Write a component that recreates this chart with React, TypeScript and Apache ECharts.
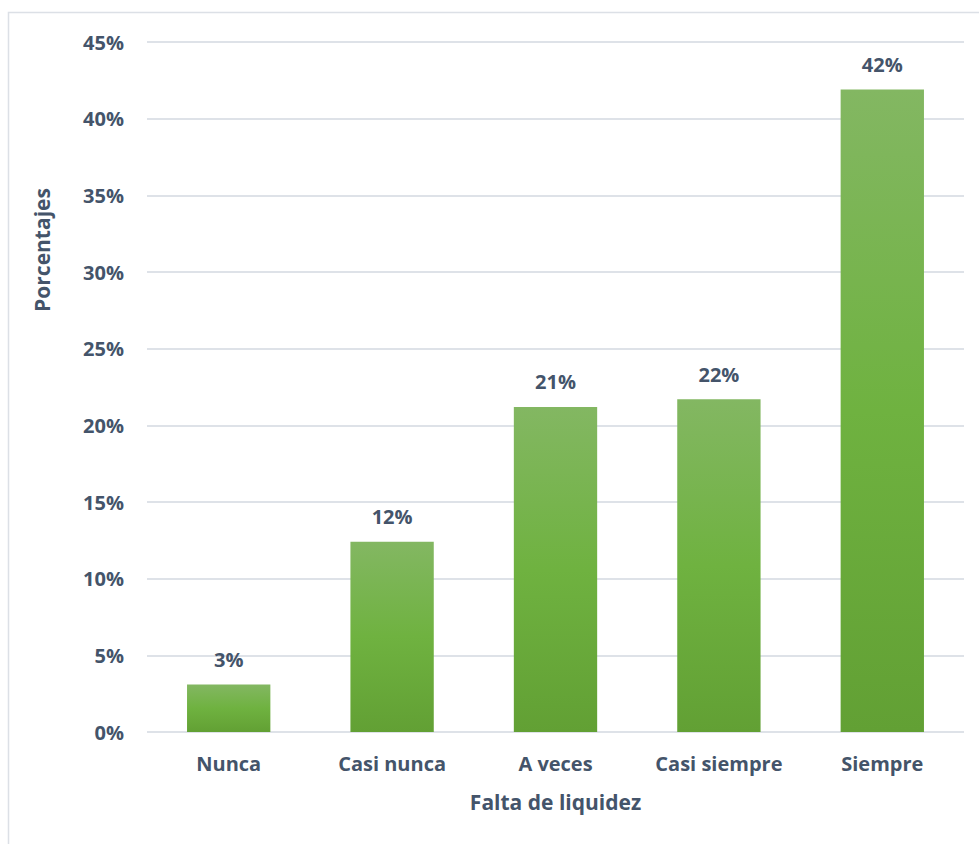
import React, { useEffect, useRef } from "react";
import * as echarts from "echarts";

// Survey responses on "Falta de liquidez" (share of respondents)
const categories = ["Nunca", "Casi nunca", "A veces", "Casi siempre", "Siempre"];
const shares = [0.031, 0.124, 0.212, 0.217, 0.419];
const yAxisTitle = "Porcentajes";
const xAxisTitle = "Falta de liquidez";

const TEXT = "#44546A";
const FONT = "'Open Sans', Lato, sans-serif";

const pct = (v: number) => `${Math.round(v * 100)}%`;

export default function App() {
  const ref = useRef<HTMLDivElement>(null);

  useEffect(() => {
    if (!ref.current) return;
    const chart = echarts.init(ref.current, undefined, { renderer: "svg" });
    chart.setOption({
      animation: false,
      backgroundColor: "#ffffff",
      textStyle: { fontFamily: FONT },
      grid: { left: 147, right: 15, top: 42, bottom: 112 },
      graphic: [
        {
          type: "rect",
          shape: { x: 8.5, y: 12.5, width: 1100, height: 1000 },
          style: { fill: "none", stroke: "#DCE0E6", lineWidth: 1.5 },
          silent: true,
        },
        {
          type: "text",
          x: 42,
          y: 250,
          rotation: Math.PI / 2,
          style: {
            text: yAxisTitle,
            fill: TEXT,
            font: `bold 21px ${FONT}`,
            align: "center",
            verticalAlign: "middle",
          },
        },
      ],
      xAxis: {
        type: "category",
        data: categories,
        axisLine: { show: false },
        axisTick: { show: false },
        axisLabel: {
          interval: 0,
          hideOverlap: false,
          color: TEXT,
          fontFamily: FONT,
          fontWeight: "bold",
          fontSize: 20,
          lineHeight: 24,
          margin: 19,
        },
        name: xAxisTitle,
        nameLocation: "middle",
        nameGap: 57,
        nameTextStyle: {
          color: TEXT,
          fontFamily: FONT,
          fontWeight: "bold",
          fontSize: 21,
          lineHeight: 25,
        },
      },
      yAxis: {
        type: "value",
        min: 0,
        max: 0.45,
        interval: 0.05,
        axisLine: { show: false },
        axisTick: { show: false },
        splitLine: { lineStyle: { color: "#DEE2E8", width: 2 } },
        axisLabel: {
          color: TEXT,
          fontFamily: FONT,
          fontWeight: "bold",
          fontSize: 20,
          margin: 23,
          formatter: (v: number) => pct(v),
        },
      },
      series: [
        {
          type: "bar",
          data: shares,
          barCategoryGap: "49%",
          itemStyle: {
            color: new echarts.graphic.LinearGradient(0, 0, 0, 1, [
              { offset: 0, color: "#83B762" },
              { offset: 0.5, color: "#6FB240" },
              { offset: 1, color: "#62A034" },
            ]),
          },
          label: {
            show: true,
            position: "top",
            distance: 15,
            color: TEXT,
            fontFamily: FONT,
            fontWeight: "bold",
            fontSize: 20,
            formatter: (p: any) => pct(p.value),
          },
        },
      ],
    });
    return () => chart.dispose();
  }, []);

  return (
    <div
      ref={ref}
      style={{ position: "fixed", left: 0, top: 0, width: 979, height: 844 }}
    />
  );
}
